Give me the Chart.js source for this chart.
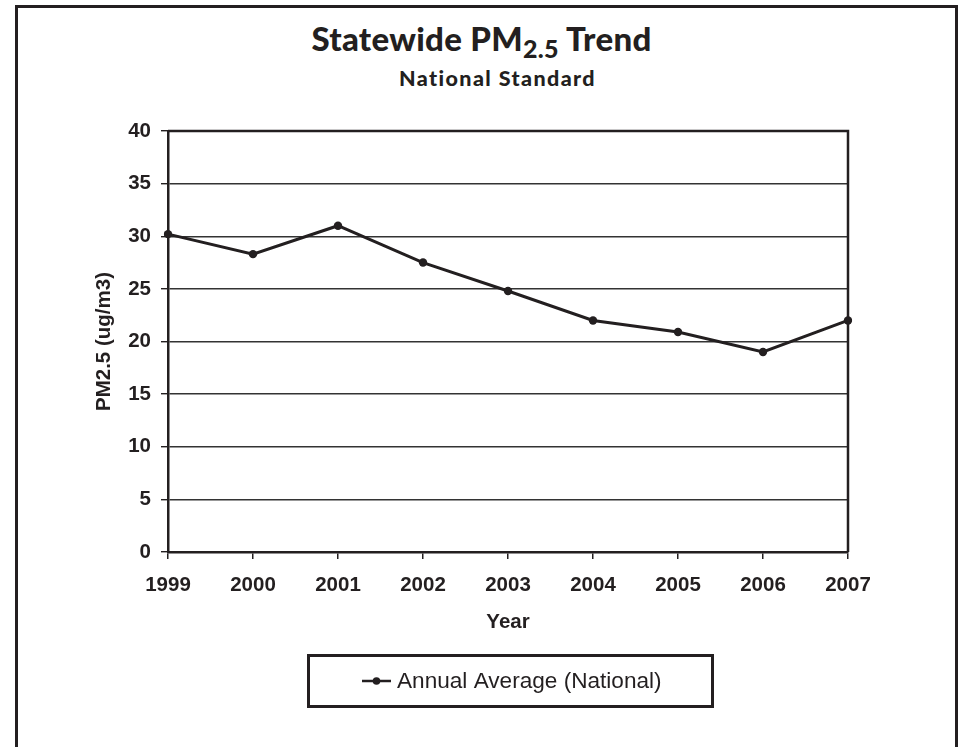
<!DOCTYPE html>
<html>
<head>
<meta charset="utf-8">
<script src="https://cdn.jsdelivr.net/npm/chart.js@4"></script>
<style>
  html, body { margin: 0; padding: 0; background: #fff; }
  body { width: 963px; height: 747px; position: relative; overflow: hidden; }
  #frame {
    position: absolute; left: 15px; top: 5px; width: 937px; height: 800px;
    border: 3px solid #231f20; border-bottom: none;
  }
  #title {
    position: absolute; left: 0; top: 20px; width: 963px; text-align: center;
    font-family: 'Lato', 'DejaVu Sans', sans-serif; font-weight: 900; font-size: 33px;
    color: #231f20; line-height: 36px; letter-spacing: 0.3px;
  }
  #title .sub { font-size: 25px; position: relative; top: 7px; }
  #subtitle {
    position: absolute; left: 16px; top: 67px; width: 963px; text-align: center;
    font-family: 'Lato', 'DejaVu Sans', sans-serif; font-weight: 900; font-size: 21.5px;
    color: #231f20; line-height: 22px; letter-spacing: 1.4px;
  }
  #chart { position: absolute; left: 0; top: 0; }
</style>
</head>
<body>
<div id="frame"></div>
<div id="title">Statewide PM<span class="sub">2.5</span> Trend</div>
<div id="subtitle">National Standard</div>
<canvas id="chart" width="963" height="747"></canvas>
<script>
// Annual average PM2.5 concentrations, statewide (national standard)
const years = ['1999', '2000', '2001', '2002', '2003', '2004', '2005', '2006', '2007'];
const annualAverage = [30.2, 28.3, 31.0, 27.5, 24.8, 22.0, 20.9, 19.0, 22.0];
const seriesName = 'Annual Average (National)';
const yTicks = [0, 5, 10, 15, 20, 25, 30, 35, 40];

const INK = '#231f20';
const AXIS_FONT = { family: "'Liberation Sans', Arial, sans-serif", size: 20.5, weight: 'bold' };

// Closes the plot box on the top and right sides
const plotFrame = {
  id: 'plotFrame',
  afterDraw(chart) {
    const { ctx, chartArea: a } = chart;
    ctx.save();
    ctx.strokeStyle = INK;
    ctx.lineWidth = 2.5;
    ctx.beginPath();
    ctx.moveTo(a.left, a.top);
    ctx.lineTo(a.right, a.top);
    ctx.lineTo(a.right, a.bottom);
    ctx.stroke();
    ctx.restore();
  }
};

// Boxed legend below the axis title
const boxedLegend = {
  id: 'boxedLegend',
  afterDraw(chart) {
    const { ctx } = chart;
    const ds = chart.data.datasets[0];
    const box = { x: 308.5, y: 655.5, w: 404, h: 51 };
    const cy = box.y + box.h / 2;
    ctx.save();
    ctx.strokeStyle = INK;
    ctx.lineWidth = 3;
    ctx.strokeRect(box.x, box.y, box.w, box.h);
    // marker: line with a dot
    ctx.strokeStyle = ds.borderColor;
    ctx.lineWidth = 2.5;
    ctx.beginPath();
    ctx.moveTo(362, cy);
    ctx.lineTo(391, cy);
    ctx.stroke();
    ctx.fillStyle = ds.pointBackgroundColor;
    ctx.beginPath();
    ctx.arc(376.5, cy, 3.8, 0, Math.PI * 2);
    ctx.fill();
    ctx.fillStyle = INK;
    ctx.font = "22.6px 'Liberation Sans', Arial, sans-serif";
    ctx.textBaseline = 'middle';
    ctx.textAlign = 'left';
    ctx.fillText(ds.label, 397, cy + 1);
    ctx.restore();
  }
};

new Chart(document.getElementById('chart'), {
  type: 'line',
  data: {
    labels: years,
    datasets: [{
      label: seriesName,
      data: annualAverage,
      borderColor: INK,
      backgroundColor: INK,
      pointBackgroundColor: INK,
      pointBorderColor: INK,
      borderWidth: 3,
      pointRadius: 4.2,
      pointBorderWidth: 0,
      tension: 0,
      fill: false
    }]
  },
  options: {
    responsive: false,
    animation: false,
    devicePixelRatio: 1,
    layout: { padding: { left: 92, top: 131, right: 115, bottom: 105 } },
    plugins: {
      legend: { display: false },
      title: { display: false },
      tooltip: { enabled: false }
    },
    scales: {
      x: {
        type: 'category',
        offset: false,
        afterFit(scale) { scale.height = 90; },
        grid: {
          display: true, drawOnChartArea: false, drawTicks: true,
          tickLength: 7, color: INK, lineWidth: 1.5
        },
        border: { display: true, color: INK, width: 2.5 },
        ticks: { color: INK, font: AXIS_FONT, padding: 14, maxRotation: 0, autoSkip: false },
        title: {
          display: true, text: 'Year', color: INK, font: AXIS_FONT,
          padding: { top: 0, bottom: 7 }
        }
      },
      y: {
        min: 0,
        max: 40,
        afterFit(scale) { scale.width = 76; },
        afterBuildTicks(scale) { scale.ticks = yTicks.map(v => ({ value: v })); },
        grid: {
          color: '#333', lineWidth: 1.4, drawTicks: true, tickLength: 7, tickColor: INK
        },
        border: { display: true, color: INK, width: 2.5 },
        ticks: { color: INK, font: AXIS_FONT, padding: 10 },
        title: {
          display: true, text: 'PM2.5 (ug/m3)', color: INK, font: AXIS_FONT,
          padding: { top: 0, bottom: 0 }
        }
      }
    }
  },
  plugins: [plotFrame, boxedLegend]
});
</script>
</body>
</html>
